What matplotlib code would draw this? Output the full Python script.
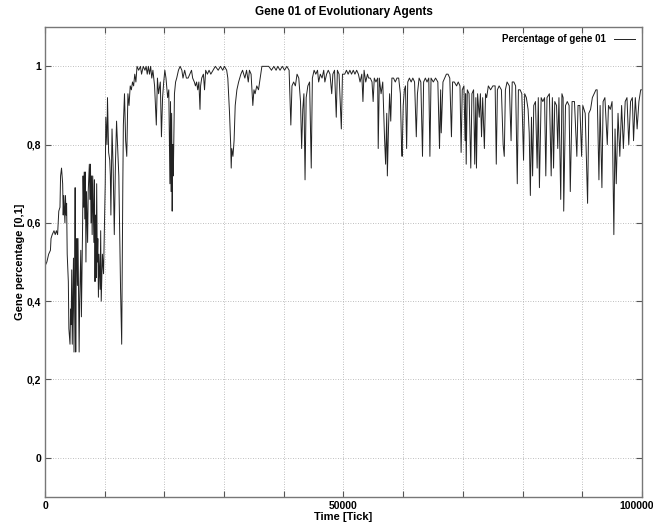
import numpy as np
import matplotlib
matplotlib.use("Agg")
import matplotlib.pyplot as plt
import matplotlib.transforms as mtransforms

plt.rcParams['font.family'] = ['Liberation Sans', 'DejaVu Sans']
plt.rcParams['font.weight'] = 'bold'

# data: time in thousands of ticks, gene share
t_k = [
    0.0, 0.3, 0.6, 0.9, 1.0, 1.2, 1.5, 1.7, 1.9, 2.1, 2.3, 2.5, 2.6, 2.76, 2.95, 3.04, 3.14, 3.33, 3.42, 3.52,
    3.61, 3.71, 3.90, 3.99, 4.18, 4.28, 4.37, 4.47, 4.56, 4.66, 4.76, 4.85, 4.95, 5.04, 5.14, 5.23, 5.33, 5.42, 5.52, 5.61,
    5.71, 5.80, 5.99, 6.09, 6.28, 6.37, 6.47, 6.56, 6.66, 6.75, 6.85, 6.94, 7.13, 7.23, 7.42, 7.51, 7.61, 7.70, 7.80, 7.89,
    7.99, 8.18, 8.27, 8.37, 8.46, 8.56, 8.65, 8.75, 8.84, 8.94, 9.03, 9.22, 9.32, 9.41, 9.61, 9.80, 9.99, 10.08, 10.18, 10.37,
    10.46, 10.65, 10.84, 10.94, 11.03, 11.22, 11.41, 11.60, 11.79, 11.98, 12.36, 12.65, 12.84, 13.03, 13.12, 13.31, 13.50, 13.69, 13.88, 14.07,
    14.27, 14.46, 14.65, 14.84, 15.03, 15.22, 15.41, 15.69, 15.98, 16.17, 16.45, 16.74,
    16.93, 17.12, 17.31, 17.50, 17.69, 17.88, 18.07, 18.35, 18.64, 18.83, 19.02, 19.31, 19.50, 19.69, 19.88, 20.07, 20.26, 20.54, 20.73, 20.92,
    21.02, 21.11, 21.21, 21.30, 21.40, 21.49, 21.68, 21.87, 22.06, 22.35, 22.63, 22.92, 23.11, 23.39, 23.68, 23.97, 24.25, 24.54, 24.73, 25.01,
    25.20, 25.39, 25.58, 25.77, 25.96, 26.06, 26.25, 26.53, 26.72, 26.91, 27.20, 27.48, 27.77, 28.15, 28.53, 29.01, 29.39, 29.77, 30.05, 30.43,
    30.62, 30.91, 31.10, 31.19, 31.29, 31.48, 31.67, 31.86, 32.14, 32.43, 32.81, 33.09, 33.48,
    33.76, 34.05, 34.24, 34.52, 34.81, 35.00, 35.19, 35.47, 35.76, 36.04, 36.33, 36.90, 37.47, 37.94, 38.33, 38.71, 38.99, 39.37, 39.75, 40.13,
    40.51, 40.89, 41.18, 41.37, 41.65, 41.94, 42.22, 42.51, 42.80, 42.99, 43.18, 43.37, 43.56, 43.75, 44.03, 44.32, 44.60, 44.79, 45.08, 45.36,
    45.65, 45.84, 46.12, 46.41, 46.69, 46.88, 47.17, 47.45, 47.74, 48.03, 48.22, 48.50, 48.79, 48.98, 49.26, 49.64, 49.83, 50.21,
    50.50, 50.78, 51.07, 51.35, 51.64, 51.92, 52.21, 52.50, 52.78, 53.07, 53.26, 53.45, 53.73, 54.02, 54.21, 54.49, 54.78, 54.97, 55.16, 55.44,
    55.73, 55.82, 56.01, 56.30, 56.58, 56.87, 57.06, 57.25, 57.35, 57.54, 57.73, 57.92, 58.11, 58.39, 58.68, 58.96, 59.25, 59.53, 59.72, 59.82,
    60.01, 60.20, 60.39, 60.58, 60.77, 61.05, 61.34, 61.62, 61.91, 62.20, 62.39, 62.67, 62.96, 63.24, 63.43, 63.72, 64.00, 64.29, 64.48, 64.67,
    65.05, 65.43, 65.81, 66.09, 66.28, 66.38, 66.67, 66.95,
    67.24, 67.52, 67.81, 68.09, 68.28, 68.57, 68.95, 69.23, 69.52, 69.71, 69.90, 70.18, 70.37, 70.47, 70.56, 70.75, 71.04, 71.33, 71.52, 71.80,
    71.99, 72.18, 72.28, 72.47, 72.75, 72.94, 73.13, 73.32, 73.61, 73.80, 73.99, 74.27, 74.65, 75.03, 75.41, 75.60, 75.79, 76.08, 76.46, 76.75,
    76.94, 77.13, 77.41, 77.79, 78.08, 78.27, 78.55, 78.84, 79.12, 79.31, 79.60, 79.88, 80.17, 80.36, 80.64, 80.93, 81.12, 81.31, 81.50, 81.69,
    81.88, 82.17, 82.45, 82.64, 82.83, 83.12, 83.40, 83.69,
    83.9, 84.1, 84.5, 84.8, 85.0, 85.2, 85.4, 85.7, 85.9, 86.1, 86.4, 86.6, 86.8, 86.9, 87.2, 87.5, 87.8, 88.0, 88.3, 88.7,
    89.1, 89.3, 89.6, 89.9, 90.1, 90.5, 90.9, 91.1, 91.4, 91.7, 92.0, 92.3, 92.5, 92.8, 93.0, 93.3, 93.5, 93.8, 94.2, 94.4,
    94.7, 95.0, 95.3, 95.5, 95.7, 96.0, 96.3, 96.6, 96.9, 97.2, 97.5, 97.8, 98.1, 98.4, 98.6, 98.9, 99.2, 99.5, 99.8, 100.0,
]
gene01 = [
    0.49, 0.50, 0.52, 0.53, 0.56, 0.57, 0.58, 0.57, 0.58, 0.57, 0.63, 0.64, 0.72, 0.74, 0.70, 0.62, 0.67, 0.60, 0.67, 0.62,
    0.65, 0.52, 0.45, 0.33, 0.29, 0.38, 0.34, 0.48, 0.29, 0.40, 0.51, 0.27, 0.45, 0.69, 0.27, 0.50, 0.56, 0.44, 0.56, 0.41,
    0.27, 0.40, 0.53, 0.36, 0.58, 0.72, 0.64, 0.73, 0.61, 0.73, 0.50, 0.68, 0.55, 0.68, 0.75, 0.66, 0.75, 0.60, 0.72, 0.57,
    0.72, 0.55, 0.71, 0.45, 0.62, 0.46, 0.70, 0.50, 0.56, 0.41, 0.52, 0.43, 0.58, 0.40, 0.52, 0.47, 0.62, 0.70, 0.87, 0.80,
    0.92, 0.78, 0.76, 0.72, 0.62, 0.84, 0.74, 0.57, 0.75, 0.86, 0.72, 0.43, 0.29, 0.70, 0.85, 0.93, 0.81, 0.77, 0.93, 0.90,
    0.95, 0.94, 0.96, 0.95, 0.98, 0.96, 1.00, 0.99, 1.00, 0.98, 1.00, 0.99,
    1.00, 0.98, 1.00, 0.98, 1.00, 0.97, 0.99, 0.95, 0.85, 0.97, 0.93, 0.96, 0.82, 0.92, 0.96, 0.99, 0.97, 0.92, 0.94, 0.70,
    0.91, 0.68, 0.88, 0.63, 0.80, 0.72, 0.93, 0.96, 0.97, 0.99, 1.00, 0.99, 0.97, 0.99, 0.97, 0.97, 0.98, 0.99, 0.97, 0.96,
    0.95, 0.96, 0.94, 0.96, 0.89, 0.95, 0.97, 0.98, 0.94, 0.99, 0.98, 0.99, 0.98, 0.99, 1.00, 0.99, 1.00, 0.99, 1.00, 0.99,
    0.97, 0.88, 0.80, 0.74, 0.79, 0.77, 0.81, 0.90, 0.94, 0.96, 0.98, 0.99, 0.97,
    0.99, 0.96, 0.99, 0.98, 0.90, 0.94, 0.93, 0.95, 0.94, 0.97, 1.00, 1.00, 1.00, 0.99, 1.00, 0.99, 1.00, 0.99, 1.00, 0.99,
    1.00, 0.99, 0.85, 0.95, 0.96, 0.95, 0.98, 0.97, 0.91, 0.79, 0.89, 0.93, 0.71, 0.92, 0.95, 0.96, 0.74, 0.97, 0.99, 0.98,
    0.99, 0.96, 0.98, 0.97, 0.99, 0.96, 0.98, 0.99, 0.98, 0.93, 0.98, 0.99, 0.87, 0.99, 0.98, 0.84, 0.98, 0.98,
    0.99, 0.98, 0.99, 0.98, 0.99, 0.98, 0.99, 0.98, 0.96, 0.98, 0.91, 0.99, 0.96, 0.98, 0.97, 0.97, 0.96, 0.91, 0.97, 0.96,
    0.97, 0.79, 0.97, 0.93, 0.96, 0.82, 0.75, 0.88, 0.72, 0.84, 0.93, 0.86, 0.97, 0.97, 0.96, 0.97, 0.97, 0.93, 0.80, 0.77,
    0.90, 0.94, 0.95, 0.79, 0.96, 0.97, 0.96, 0.97, 0.96, 0.82, 0.93, 0.97, 0.96, 0.77, 0.96, 0.97, 0.96, 0.97, 0.77, 0.97,
    0.96, 0.97, 0.96, 0.79, 0.94, 0.83, 0.96, 0.97,
    0.98, 0.98, 0.97, 0.82, 0.96, 0.96, 0.95, 0.96, 0.95, 0.78, 0.94, 0.95, 0.81, 0.93, 0.75, 0.94, 0.93, 0.74, 0.93, 0.94,
    0.75, 0.92, 0.74, 0.93, 0.87, 0.93, 0.82, 0.92, 0.79, 0.93, 0.92, 0.95, 0.94, 0.95, 0.95, 0.75, 0.94, 0.95, 0.94, 0.80,
    0.77, 0.94, 0.96, 0.95, 0.81, 0.96, 0.96, 0.95, 0.70, 0.94, 0.94, 0.93, 0.76, 0.93, 0.92, 0.89, 0.83, 0.67, 0.87, 0.72,
    0.90, 0.91, 0.74, 0.92, 0.69, 0.92, 0.91, 0.92,
    0.72, 0.92, 0.93, 0.72, 0.92, 0.74, 0.91, 0.90, 0.79, 0.92, 0.66, 0.93, 0.92, 0.63, 0.90, 0.91, 0.90, 0.68, 0.91, 0.91,
    0.77, 0.90, 0.90, 0.77, 0.90, 0.88, 0.65, 0.88, 0.89, 0.92, 0.93, 0.94, 0.94, 0.71, 0.90, 0.69, 0.91, 0.92, 0.80, 0.90,
    0.89, 0.91, 0.57, 0.84, 0.70, 0.88, 0.77, 0.90, 0.79, 0.91, 0.92, 0.80, 0.91, 0.92, 0.81, 0.92, 0.84, 0.91, 0.94, 0.94,
]
y_ticks = [0, 0.2, 0.4, 0.6, 0.8, 1]
y_ticklabels = ['0', '0,2', '0,4', '0,6', '0,8', '1']
x_ticks = list(range(0, 100001, 10000))
x_ticklabels = ['0', '', '', '', '', '50000', '', '', '', '', '100000']

ticks = np.array(t_k) * 1000

fig = plt.figure(figsize=(6.53, 5.23), dpi=100)
ax = fig.add_axes([0.069, 0.050, 0.914, 0.898])

ax.plot(ticks, gene01, color='#222222', linewidth=0.7, label='Percentage of gene 01')

ax.set_xlim(0, 100000)
ax.set_ylim(-0.1, 1.1)
ax.set_xticks(x_ticks)
ax.set_xticklabels(x_ticklabels)
ax.set_yticks(y_ticks)
ax.set_yticklabels(y_ticklabels)
ax.tick_params(direction='in', length=4, width=0.8, color='#555555',
               top=True, right=True, labelsize=7.5, pad=3)
ax.grid(True, linestyle=(0, (1, 2)), color='#aaaaaa', linewidth=0.6)
for s in ax.spines.values():
    s.set_color('#777777')
    s.set_linewidth(1.0)

# shift the last x label so it stays in the picture
lab = ax.get_xticklabels()[-1]
lab.set_transform(lab.get_transform() + mtransforms.ScaledTranslation(-5 / 100, 0, fig.dpi_scale_trans))

ax.set_title('Gene 01 of Evolutionary Agents', fontsize=8.5, fontweight='bold', pad=9)
ax.set_xlabel('Time [Tick]', fontsize=8, fontweight='bold', labelpad=1)
ax.set_ylabel('Gene percentage [0,1]', fontsize=8, fontweight='bold', labelpad=1)

leg = ax.legend(loc='upper right', frameon=False, fontsize=7, handlelength=2.2,
                handletextpad=0.8, borderaxespad=0.3, markerfirst=False)
for t in leg.get_texts():
    t.set_fontweight('bold')

fig.savefig('out.png', dpi=100)
